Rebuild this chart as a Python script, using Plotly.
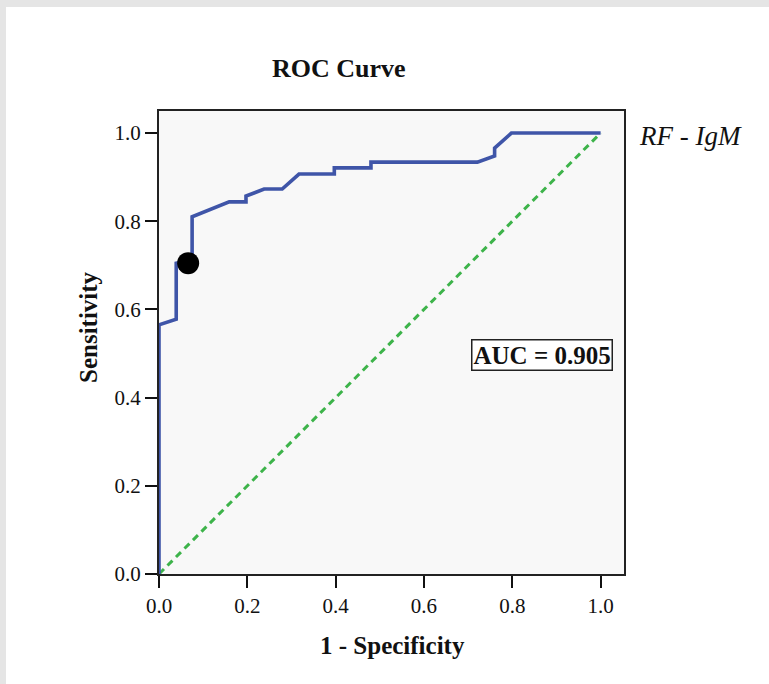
import plotly.graph_objects as go

# ROC curve points (1 - specificity, sensitivity)
fpr = [0, 0, 0.039, 0.039, 0.075, 0.075, 0.159, 0.197, 0.197, 0.238, 0.279, 0.317,
       0.397, 0.397, 0.48, 0.48, 0.721, 0.76, 0.76, 0.798, 1.0]
tpr = [0, 0.565, 0.578, 0.705, 0.712, 0.81, 0.844, 0.844, 0.857, 0.873, 0.873, 0.907,
       0.907, 0.921, 0.921, 0.934, 0.934, 0.948, 0.966, 1.0, 1.0]
ref_x = [0, 1]
ref_y = [0, 1]
cut_x = [0.066]
cut_y = [0.705]
tick_vals = [0, 0.2, 0.4, 0.6, 0.8, 1.0]
tick_text = ["0.0", "0.2", "0.4", "0.6", "0.8", "1.0"]
auc_text = "AUC = 0.905"
series_name = "RF - IgM"

SERIF = "Liberation Serif"
W, H = 769, 684
L, R, T, B = 159, 624, 111, 574
pw, ph = R - L, B - T

def px(x):
    return (x - L) / pw

def py(y):
    return (B - y) / ph

fig = go.Figure()
fig.add_trace(go.Scatter(x=ref_x, y=ref_y, mode="lines",
                         line=dict(color="#3db34a", width=3, dash="7px,5px"),
                         showlegend=False, hoverinfo="skip"))
fig.add_trace(go.Scatter(x=fpr, y=tpr, mode="lines",
                         line=dict(color="#3f55a8", width=3.6),
                         showlegend=False))
fig.add_trace(go.Scatter(x=cut_x, y=cut_y, mode="markers",
                         marker=dict(color="black", size=22),
                         showlegend=False))

axis_common = dict(
    tickvals=tick_vals, ticktext=tick_text, ticks="outside", ticklen=12,
    tickwidth=1.5, tickcolor="#111", showline=True, linecolor="#222",
    linewidth=2, mirror=True, showgrid=False, zeroline=False,
    tickfont=dict(family=SERIF, size=21, color="#111"),
)
fig.update_xaxes(range=[0, 1.053], **axis_common)
fig.update_yaxes(range=[0, 1.05], **axis_common)

annots = [
    dict(text="<b>ROC Curve</b>", x=px(339), y=py(69), font=dict(size=26)),
    dict(text="<b>1 - Specificity</b>", x=px(392), y=py(645), font=dict(size=25)),
    dict(text="<b>Sensitivity</b>", x=px(88), y=py(327), font=dict(size=25), textangle=-90),
    dict(text="<i>" + series_name + "</i>", x=px(637), y=py(136), xanchor="left",
         font=dict(size=27)),
    dict(text="<b>" + auc_text + "</b>", x=px(542), y=py(355), font=dict(size=25),
         bordercolor="#222", borderwidth=1.5, borderpad=1, bgcolor="white"),
]
for a in annots:
    a.setdefault("xanchor", "center")
    a.update(xref="paper", yref="paper", yanchor="middle", showarrow=False)
    a["font"].update(family=SERIF, color="#111")
    fig.add_annotation(**a)

# outer gray frame strips
fig.add_shape(type="rect", xref="paper", yref="paper", x0=px(0), x1=px(W), y0=py(0), y1=py(7),
              fillcolor="#e5e5e5", line=dict(width=0))
fig.add_shape(type="rect", xref="paper", yref="paper", x0=px(0), x1=px(6), y0=py(H), y1=py(0),
              fillcolor="#e5e5e5", line=dict(width=0))

fig.update_layout(
    width=W, height=H, margin=dict(l=L, r=W - R, t=T, b=H - B),
    paper_bgcolor="white", plot_bgcolor="#f8f8f8",
)
fig.write_html("out.html")
